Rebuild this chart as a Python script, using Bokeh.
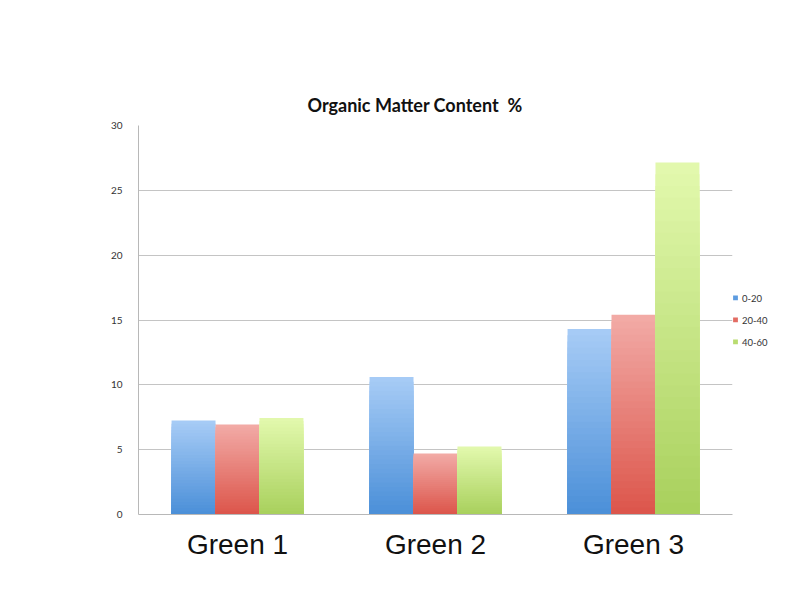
from bokeh.plotting import figure
from bokeh.models import FactorRange, Legend, LegendItem, ColumnDataSource, FixedTicker
from bokeh.transform import dodge
from bokeh.embed import file_html
from bokeh.resources import INLINE

categories = ["Green 1", "Green 2", "Green 3"]
series = ["0-20", "20-40", "40-60"]
v_0_20 = [7.25, 10.6, 14.3]
v_20_40 = [6.95, 4.7, 15.4]
v_40_60 = [7.45, 5.25, 27.15]
y_ticks = [0, 5, 10, 15, 20, 25, 30]

values = [v_0_20, v_20_40, v_40_60]
# (bottom colour, top colour) for the vertical gradient of each series
grad = [((0x4a, 0x8f, 0xd8), (0xa8, 0xcc, 0xf6)),
        ((0xdc, 0x55, 0x4a), (0xf2, 0xab, 0xa7)),
        ((0xa8, 0xd0, 0x5c), (0xe3, 0xf9, 0xae))]
swatch = ["#5d9ce0", "#e36c63", "#b9dc70"]

p = figure(x_range=FactorRange(factors=categories, range_padding=0),
           y_range=(0, 30), frame_width=594, frame_height=389,
           min_border_left=138, min_border_top=125, min_border_bottom=78,
           min_border_right=0, output_backend="svg", toolbar_location=None,
           background_fill_color="white", border_fill_color="white")
p.outline_line_color = None

bw = 0.222
offsets = [-bw, 0.0, bw]
N = 30
for si, name in enumerate(series):
    vals = values[si]
    b0, b1 = grad[si]
    for k in range(N - 1, -1, -1):
        t = (k + 0.5) / N
        c = tuple(int(round(b0[j] + (b1[j] - b0[j]) * t)) for j in range(3))
        col = "#%02x%02x%02x" % c
        src = ColumnDataSource(dict(x=categories,
                                    top=[v * (k + 1) / N for v in vals]))
        p.vbar(x=dodge("x", offsets[si], range=p.x_range), bottom=0, top="top",
               width=bw, source=src, fill_color=col, line_color=None)

items = []
for si, name in enumerate(series):
    sq = p.rect(x=[categories[0]], y=[-10], width=0.1, height=1,
                fill_color=swatch[si], line_color=None)
    items.append(LegendItem(label=name, renderers=[sq]))

legend = Legend(items=items, location="center_left", orientation="vertical",
                glyph_width=6, glyph_height=6, label_text_font_size="9.5px",
                label_text_font="Lato", label_text_color="#333333",
                label_height=9, spacing=11, label_standoff=4,
                padding=0, margin=0, border_line_color=None,
                background_fill_alpha=0)
p.add_layout(legend, "right")

p.title.text = "Organic Matter Content\u00a0\u00a0%"
p.title.text_font = "Lato"
p.title.text_font_style = "bold"
p.title.text_font_size = "18px"
p.title.align = "left"
p.title.offset = 169
p.title.standoff = 20
p.title.text_color = "#111111"

p.yaxis.ticker = FixedTicker(ticks=y_ticks)
p.yaxis.major_label_text_font = "Lato"
p.yaxis.major_label_text_font_size = "10px"
p.yaxis.major_label_text_color = "#333333"
p.yaxis.major_tick_line_color = None
p.yaxis.minor_tick_line_color = None
p.yaxis.major_label_standoff = 10
p.yaxis.axis_line_color = "#b8b8b8"

p.xaxis.major_label_text_font = "Liberation Sans"
p.xaxis.major_label_text_font_size = "28px"
p.xaxis.major_label_text_color = "#111111"
p.xaxis.major_tick_line_color = None
p.xaxis.major_label_standoff = 8
p.xaxis.axis_line_color = "#b8b8b8"

p.xgrid.grid_line_color = None
p.ygrid.grid_line_color = "#c4c4c4"
p.ygrid.ticker = FixedTicker(ticks=y_ticks)

open("out.html", "w").write(file_html(p, INLINE))
